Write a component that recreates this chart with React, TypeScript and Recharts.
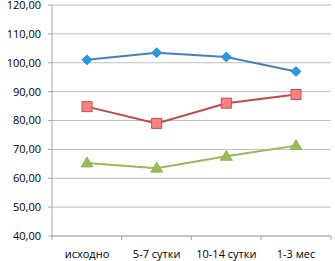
import { LineChart, Line, XAxis, YAxis, CartesianGrid } from 'recharts';

const categories = ['исходно', '5-7 сутки', '10-14 сутки', '1-3 мес'];
const blueValues = [101.0, 103.5, 102.0, 97.0];
const redValues = [84.8, 79.0, 86.0, 89.0];
const greenValues = [65.3, 63.5, 67.6, 71.3];
const yTicks = [40, 50, 60, 70, 80, 90, 100, 110, 120];

const data = categories.map((c, i) => ({
    name: c,
    blue: blueValues[i],
    red: redValues[i],
    green: greenValues[i],
}));

const fmt = (v: number) => v.toFixed(2).replace('.', ',');

const HALF_BAND = 35;

// Excel-style x ticks: marks sit on the category boundaries, labels in the middle
const BoundaryTick = ({ x, y, payload, index }: any) => (
    <g>
        <line x1={x - HALF_BAND} x2={x - HALF_BAND} y1={y - 8} y2={y - 4} stroke="#a6a6a6" />
        {index === categories.length - 1 && (
            <line x1={x + HALF_BAND} x2={x + HALF_BAND} y1={y - 8} y2={y - 4} stroke="#a6a6a6" />
        )}
        <text x={x} y={y + 14} textAnchor="middle" fontSize={11} fill="#000">
            {payload.value}
        </text>
    </g>
);

const DiamondDot = ({ cx, cy }: any) => (
    <path
        d={`M${cx},${cy - 5} L${cx + 5},${cy} L${cx},${cy + 5} L${cx - 5},${cy} Z`}
        fill="#1f9be6"
        stroke="#3b78c2"
        strokeWidth={0.8}
    />
);

const SquareDot = ({ cx, cy }: any) => (
    <rect x={cx - 5} y={cy - 5} width={10} height={10} fill="#ff8080" stroke="#c0504d" strokeWidth={1} />
);

const TriangleDot = ({ cx, cy }: any) => (
    <path
        d={`M${cx},${cy - 6} L${cx + 6},${cy + 4} L${cx - 6},${cy + 4} Z`}
        fill="#9bbb59"
        stroke="#8aab4a"
        strokeWidth={0.8}
    />
);

export default function App() {
    return (
        <div style={{ position: 'absolute', left: 0, top: 0, background: '#fff' }}>
            <LineChart
                width={335}
                height={261}
                data={data}
                margin={{ top: 5, right: 4, left: 0, bottom: 0 }}
                style={{ fontFamily: 'Open Sans, sans-serif' }}
            >
                <CartesianGrid vertical={false} stroke="#bfbfbf" />
                <XAxis
                    dataKey="name"
                    height={25}
                    stroke="#a6a6a6"
                    tickLine={false}
                    tick={<BoundaryTick />}
                    interval={0}
                    padding={{ left: HALF_BAND, right: HALF_BAND }}
                />
                <YAxis
                    domain={[40, 120]}
                    ticks={yTicks}
                    tickFormatter={fmt}
                    width={52}
                    stroke="#a6a6a6"
                    tickSize={4}
                    tickMargin={7}
                    tick={{ fontSize: 11, fill: '#000' }}
                    interval={0}
                />
                <Line
                    dataKey="blue"
                    stroke="#4a7ebb"
                    strokeWidth={2}
                    dot={<DiamondDot />}
                    isAnimationActive={false}
                />
                <Line
                    dataKey="red"
                    stroke="#be4b48"
                    strokeWidth={2}
                    dot={<SquareDot />}
                    isAnimationActive={false}
                />
                <Line
                    dataKey="green"
                    stroke="#98b954"
                    strokeWidth={2}
                    dot={<TriangleDot />}
                    isAnimationActive={false}
                />
            </LineChart>
        </div>
    );
}
